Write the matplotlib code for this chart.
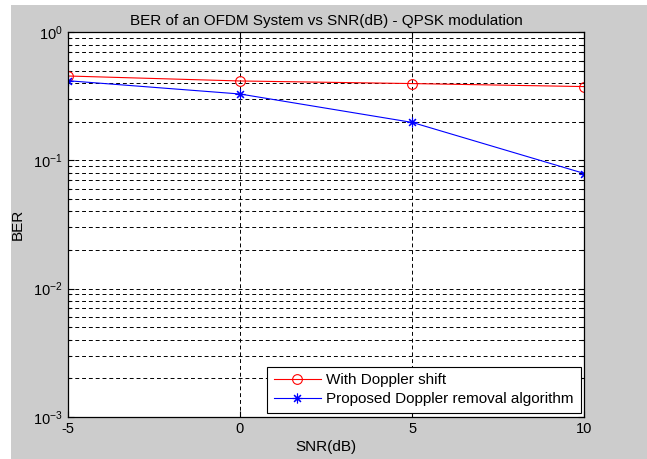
import matplotlib
matplotlib.use("Agg")
import matplotlib.pyplot as plt
from matplotlib.ticker import LogLocator, NullFormatter, FixedLocator, FuncFormatter
from matplotlib.patches import Rectangle
import numpy as np

plt.rcParams['font.family'] = ['Liberation Sans', 'DejaVu Sans']
plt.rcParams['mathtext.fontset'] = 'custom'
plt.rcParams['mathtext.rm'] = 'Liberation Sans'
plt.rcParams['mathtext.it'] = 'Liberation Sans'
plt.rcParams['axes.unicode_minus'] = False

snr = [-5, 0, 5, 10]
ber_doppler = [0.456, 0.417, 0.398, 0.377]
ber_proposed = [0.419, 0.330, 0.198, 0.079]
xticks = [-5, 0, 5, 10]
labels = ['With Doppler shift', 'Proposed Doppler removal algorithm']

W, H = 647, 459
fig = plt.figure(figsize=(W / 100, H / 100), dpi=100, facecolor='white')
bg = Rectangle((11 / W, 0), 1 - 11 / W, 1 - 5 / H, transform=fig.transFigure,
               facecolor='#cccccc', edgecolor='none', zorder=-10)
fig.add_artist(bg)

left, right, top, bottom = 67.7, 584.5, 32.3, 416.7
ax = fig.add_axes([left / W, 1 - bottom / H, (right - left) / W, (bottom - top) / H])
ax.set_zorder(1)
ax.set_facecolor('white')

ax.semilogy(snr, ber_doppler, color='red', marker='o', markersize=7,
            markerfacecolor='none', markeredgecolor='red', markeredgewidth=0.8,
            linewidth=0.8, label=labels[0])
ax.semilogy(snr, ber_proposed, color='blue', marker=(8, 2, 0), markersize=7,
            markeredgewidth=0.8, linewidth=0.8, label=labels[1])

ax.set_xlim(-5, 10)
ax.set_ylim(1e-3, 1)
ax.xaxis.set_major_locator(FixedLocator(xticks))
ax.xaxis.set_major_formatter(FuncFormatter(lambda v, p: '%d' % v))
ax.yaxis.set_major_locator(LogLocator(base=10, numticks=10))
ax.yaxis.set_major_formatter(FuncFormatter(lambda v, p: '10$^{%d}$' % int(round(np.log10(v)))))
ax.yaxis.set_minor_locator(LogLocator(base=10, subs=range(2, 10), numticks=10))
ax.yaxis.set_minor_formatter(NullFormatter())

gs = dict(color='black', linestyle=(0, (4, 3)), linewidth=0.7)
ax.grid(True, which='major', **gs)
ax.grid(True, which='minor', axis='y', **gs)

ax.tick_params(which='both', direction='in', top=True, right=True, labelsize=10.5, colors='black')
ax.tick_params(which='major', length=4, width=0.8)
ax.tick_params(which='minor', length=2, width=0.8)
for s in ax.spines.values():
    s.set_linewidth(0.9)

ax.set_title('BER of an OFDM System vs SNR(dB) - QPSK modulation', fontsize=11, pad=5)
ax.set_xlabel('SNR(dB)', fontsize=11, labelpad=3)
ax.set_ylabel('BER', fontsize=11, labelpad=6)

leg = ax.legend(loc='lower right', fontsize=11, fancybox=False, edgecolor='black',
                framealpha=1, borderaxespad=0.25, handlelength=3.1, handletextpad=0.35,
                borderpad=0.45, labelspacing=0.3)
leg.get_frame().set_linewidth(0.8)

fig.savefig('out.png', dpi=100, facecolor=fig.get_facecolor())
